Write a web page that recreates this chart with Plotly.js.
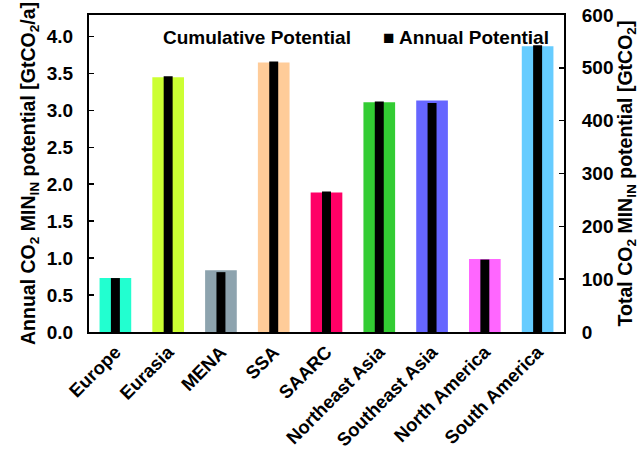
<!DOCTYPE html>
<html>
<head>
<meta charset="utf-8">
<script src="https://cdn.plot.ly/plotly-3.0.1.min.js"></script>
<style>html,body{margin:0;padding:0;background:#fff;}#chart{width:641px;height:449px;}</style>
</head>
<body>
<div id="chart"></div>
<script>
const regions = ["Europe","Eurasia","MENA","SSA","SAARC","Northeast Asia","Southeast Asia","North America","South America"];
const cumulative = [102, 482, 117, 510, 264, 435, 438, 138, 541];
const annual = [0.73, 3.46, 0.81, 3.66, 1.90, 3.12, 3.10, 0.98, 3.88];
const regionColors = ["#22FFD0","#CCFF33","#8DA3AE","#FFCC99","#FF0066","#33CC33","#6666FF","#FF66FF","#66CCFF"];

const F = "Liberation Sans, Arial, sans-serif";

const traces = [
  {type:'bar', x:regions, y:cumulative, yaxis:'y', width:0.6,
   marker:{color:regionColors}, name:'Cumulative Potential', showlegend:false},
  {type:'bar', x:regions, y:annual, yaxis:'y2', width:0.17,
   marker:{color:'#000000'}, name:'Annual Potential', showlegend:false}
];

const layout = {
  width:641, height:449,
  margin:{l:89, r:77, t:15, b:117},
  paper_bgcolor:'#fff', plot_bgcolor:'#fff',
  barmode:'overlay',
  font:{family:F, size:18, color:'#000'},
  xaxis:{
    tickangle:-45, tickfont:{family:F, size:18.5, color:'#000', weight:'bold'},
    showline:true, linecolor:'#000', linewidth:2, mirror:true,
    ticks:'', showgrid:false, zeroline:false
  },
  yaxis:{
    side:'right', range:[0,600], dtick:100,
    showline:true, linecolor:'#000', linewidth:2,
    ticks:'inside', ticklen:5, tickwidth:1.5, tickcolor:'#000', ticklabelstandoff:12,
    tickfont:{family:F, size:19, color:'#000', weight:'bold'},
    showgrid:false, zeroline:false,
    title:{text:'Total CO<sub>2</sub> MIN<sub>IN</sub> potential [GtCO<sub>2</sub>]', font:{family:F, size:19.5, color:'#000', weight:'bold'}, standoff:6}
  },
  yaxis2:{
    side:'left', overlaying:'y', range:[0,4.29], dtick:0.5, tickformat:'.1f',
    showline:true, linecolor:'#000', linewidth:2,
    ticks:'inside', ticklen:5, tickwidth:1.5, tickcolor:'#000', ticklabelstandoff:10,
    tickfont:{family:F, size:19, color:'#000', weight:'bold'},
    showgrid:false, zeroline:false,
    title:{text:'Annual CO<sub>2</sub> MIN<sub>IN</sub> potential [GtCO<sub>2</sub>/a]', font:{family:F, size:19.5, color:'#000', weight:'bold'}, standoff:6}
  },
  annotations:[
    {xref:'paper', yref:'paper', x:(161-89)/475, y:(332-37)/317, xanchor:'left', yanchor:'middle',
     text:'<b>Cumulative Potential</b>', showarrow:false, font:{family:F, size:19, color:'#000'}},
    {xref:'paper', yref:'paper', x:(381-89)/475, y:(332-37)/317, xanchor:'left', yanchor:'middle',
     text:'<b>■ Annual Potential</b>', showarrow:false, font:{family:F, size:19, color:'#000'}}
  ]
};

Plotly.newPlot('chart', traces, layout, {displayModeBar:false, staticPlot:true});
</script>
</body>
</html>
